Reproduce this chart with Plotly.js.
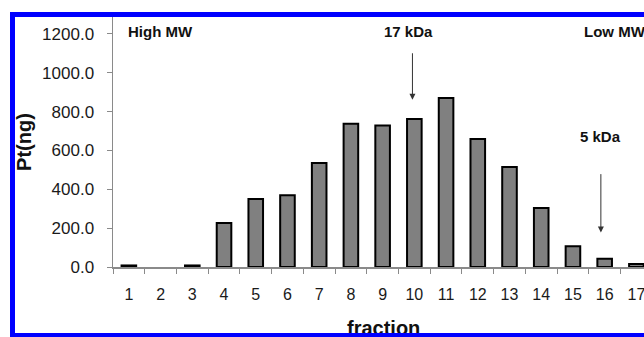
<!DOCTYPE html>
<html>
<head>
<meta charset="utf-8">
<script src="https://cdn.plot.ly/plotly-3.0.1.min.js"></script>
<style>
  html, body { margin: 0; padding: 0; background: #fff; overflow: hidden; }
  #wrap { position: relative; width: 644px; height: 337px; overflow: hidden; }
  #chart { position: absolute; left: 0; top: 0; width: 644px; height: 337px; }
  #frame { position: absolute; left: 10px; top: 12px; width: 700px; height: 316px;
           border: 5px solid #0000ff; pointer-events: none; }
</style>
</head>
<body>
<div id="wrap">
  <div id="chart"></div>
  <div id="frame"></div>
</div>
<script>
const fractions = ['1','2','3','4','5','6','7','8','9','10','11','12','13','14','15','16','17'];
const ptNg = [8, 0, 8, 227, 350, 369, 536, 738, 729, 762, 870, 659, 515, 304, 107, 42, 15];
const yTicks = [0, 200, 400, 600, 800, 1000, 1200];
const xTitle = 'fraction';
const yTitle = 'Pt(ng)';

const font = 'Liberation Sans, Arial, Helvetica, sans-serif';

const trace = {
  type: 'bar',
  x: fractions,
  y: ptNg,
  width: 0.46,
  marker: { color: '#808080', line: { color: '#000000', width: ptNg.map(v => v > 0 ? 2 : 0) } },
  hoverinfo: 'x+y'
};

const layout = {
  width: 644,
  height: 337,
  margin: { l: 113, r: 0, t: 17, b: 70, pad: 0 },
  paper_bgcolor: '#ffffff',
  plot_bgcolor: '#ffffff',
  showlegend: false,
  font: { family: font, color: '#1a1a1a', size: 16 },
  xaxis: {
    type: 'category',
    range: [-0.5, 16.24],
    showgrid: false,
    zeroline: false,
    showline: true,
    linecolor: '#8a8a8a',
    linewidth: 1.5,
    ticks: 'outside',
    tickson: 'boundaries',
    ticklen: 5,
    tickcolor: '#8a8a8a',
    tickwidth: 1,
    ticklabelstandoff: 12,
    tickfont: { size: 16, color: '#1a1a1a' }
  },
  yaxis: {
    range: [0, 1287],
    tickvals: yTicks,
    tickformat: '.1f',
    showgrid: false,
    zeroline: false,
    showline: true,
    linecolor: '#8a8a8a',
    linewidth: 1.5,
    ticks: 'outside',
    ticklen: 5,
    tickcolor: '#8a8a8a',
    tickwidth: 1,
    ticklabelstandoff: 9,
    tickfont: { size: 17, color: '#1a1a1a' },
    title: { text: yTitle, font: { size: 20, color: '#111', weight: 'bold' }, standoff: 5 }
  },
  annotations: [
    { xref: 'paper', yref: 'paper', x: (383 - 113) / 531, y: (267 - 315) / 250, xanchor: 'center', yanchor: 'top',
      text: xTitle, showarrow: false, font: { size: 20, color: '#111', weight: 'bold' } },
    { xref: 'paper', yref: 'paper', x: 0.0245, y: 0.942, xanchor: 'left', yanchor: 'middle',
      text: 'High MW', showarrow: false, font: { size: 15, color: '#111', weight: 'bold' } },
    { xref: 'paper', yref: 'paper', x: (408 - 113) / 531, y: 0.942, xanchor: 'center', yanchor: 'middle',
      text: '17 kDa', showarrow: false, font: { size: 15, color: '#111', weight: 'bold' } },
    { xref: 'paper', yref: 'paper', x: (582 - 113) / 531, y: 0.942, xanchor: 'left', yanchor: 'middle',
      text: 'Low MW', showarrow: false, font: { size: 15, color: '#111', weight: 'bold' } },
    { xref: 'paper', yref: 'paper', x: (600 - 113) / 531, y: (267 - 136.5) / 250, xanchor: 'center', yanchor: 'middle',
      text: '5 kDa', showarrow: false, font: { size: 15, color: '#111', weight: 'bold' } },
    { xref: 'x', yref: 'y', x: 8.94, y: 861, text: '', showarrow: true,
      axref: 'pixel', ayref: 'pixel', ax: 0, ay: -48,
      arrowhead: 2, arrowsize: 1.2, arrowwidth: 1, arrowcolor: '#333' },
    { xref: 'x', yref: 'y', x: 14.88, y: 177, text: '', showarrow: true,
      axref: 'pixel', ayref: 'pixel', ax: 0, ay: -60,
      arrowhead: 2, arrowsize: 1.2, arrowwidth: 1, arrowcolor: '#333' }
  ]
};

Plotly.newPlot('chart', [trace], layout, { displayModeBar: false, staticPlot: true });
</script>
</body>
</html>
